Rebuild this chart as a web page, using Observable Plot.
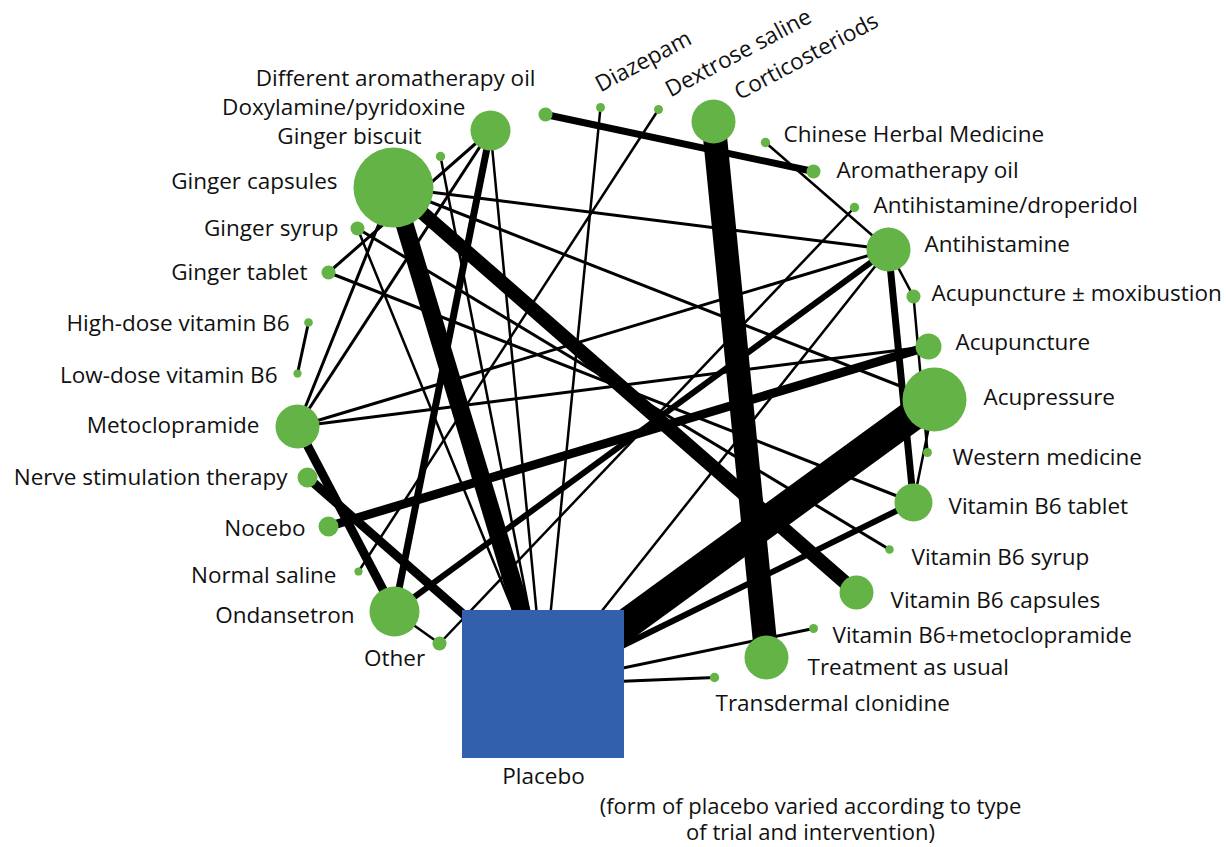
<!DOCTYPE html>
<html><head><meta charset="utf-8">
<script src="https://cdn.jsdelivr.net/npm/d3@7"></script>
<script src="https://cdn.jsdelivr.net/npm/@observablehq/plot@0.6"></script>
<style>body{margin:0;background:#fff;} svg{display:block;}</style>
</head><body><div id="chart"></div>
<script>
// Treatments (nodes) of the network
const treatments = [
  "Placebo","Different aromatherapy oil","Doxylamine/pyridoxine","Ginger biscuit","Ginger capsules",
  "Ginger syrup","Ginger tablet","High-dose vitamin B6","Low-dose vitamin B6","Metoclopramide",
  "Nerve stimulation therapy","Nocebo","Normal saline","Ondansetron","Other",
  "Diazepam","Dextrose saline","Corticosteriods","Chinese Herbal Medicine","Aromatherapy oil",
  "Antihistamine/droperidol","Antihistamine","Acupuncture ± moxibustion","Acupuncture","Acupressure",
  "Western medicine","Vitamin B6 tablet","Vitamin B6 syrup","Vitamin B6 capsules","Vitamin B6+metoclopramide",
  "Treatment as usual","Transdermal clonidine"
];
// network layout coordinates of each treatment
const layoutX = [543,545,490,440,393,357,328,308,297,297,307,328,358,394,439,600,658,713,765,813,854,888,913,928,934,927,913,889,856,813,766,714];
const layoutY = [684,114,130,156,187,228,272,322,373,426,477,526,571,611,643,107,109,121,142,171,207,249,296,346,399,452,502,549,592,628,657,677];
// node weight (number of participants, relative)
const nodeWeight = [0,49,400,22,1600,49,49,19,17,484,100,100,17,625,49,20,20,484,22,49,22,484,49,169,1024,20,361,18,289,20,484,22];
// label placement: side and anchor point
const labelSide = ["below","left","left","left","left","left","left","left","left","left","left","left","left","left","below","rot","rot","rot","right","right","right","right","right","right","right","right","right","right","right","right","right","right"];
const labelX = [543,535,465,421,337,338,307,289,277,259,287,305,336,354,394,600,670,739,783,836,873,924,931,955,983,952,948,911,890,832,807,715];
const labelY = [776,78,107,136,181,228,272,323,375,425,477,528,575,615,658,92,97,100,134,170,205,244,293,342,397,457,506,557,600,635,667,703];

// comparisons (edges)
const edgeFrom = ["Corticosteriods","Placebo","Placebo","Ginger capsules","Different aromatherapy oil","Nocebo","Metoclopramide","Nerve stimulation therapy","Doxylamine/pyridoxine","Antihistamine","Antihistamine","Placebo","Placebo","Placebo","Placebo","Placebo","Placebo","Placebo","Placebo","Dextrose saline","Antihistamine/droperidol","Ondansetron","Chinese Herbal Medicine","Antihistamine","Acupuncture ± moxibustion","Acupressure","Ginger capsules","Ginger capsules","Ginger capsules","Metoclopramide","Metoclopramide","Metoclopramide","Ginger tablet","Ginger tablet","Ginger syrup","High-dose vitamin B6"];
const edgeTo = ["Treatment as usual","Acupressure","Ginger capsules","Vitamin B6 capsules","Aromatherapy oil","Acupuncture","Ondansetron","Placebo","Ondansetron","Vitamin B6 tablet","Ondansetron","Vitamin B6 tablet","Antihistamine","Vitamin B6+metoclopramide","Transdermal clonidine","Diazepam","Doxylamine/pyridoxine","Ginger biscuit","Ginger syrup","Normal saline","Other","Other","Antihistamine","Acupuncture ± moxibustion","Western medicine","Vitamin B6 tablet","Antihistamine","Acupressure","Metoclopramide","Doxylamine/pyridoxine","Antihistamine","Acupuncture","Doxylamine/pyridoxine","Vitamin B6 tablet","Vitamin B6 syrup","Low-dose vitamin B6"];
// number of trials per comparison (drawn as line width)
const edgeTrials = [24,31,18,14,7,9,9,9,7,7,6,6,2.5,3,3,2.5,2.5,2.5,2.5,2.5,2.5,2.5,2.5,2.5,2.5,2.5,3,3,3,3,3,3,3,3,3,3];

const footnote = ["(form of placebo varied according to type\nof trial and intervention)"];

// ---- build tables ----
const nodes = treatments.map((name,i)=>({name,x:layoutX[i],y:layoutY[i],w:nodeWeight[i],side:labelSide[i],lx:labelX[i],ly:labelY[i]}));
const byName = new Map(nodes.map(n=>[n.name,n]));
const edges = edgeFrom.map((f,i)=>({a:byName.get(f),b:byName.get(edgeTo[i]),t:edgeTrials[i]}));
const placebo = nodes.filter(n=>n.name==="Placebo");
const others = nodes.filter(n=>n.name!=="Placebo");
const boxW = 162, boxH = 148;
const GREEN = "#63b347", BLUE = "#3360ad", INK = "#111";

const chart = Plot.plot({
  width: 1226, height: 847, margin: 0,
  x: {domain:[0,1226], range:[0,1226], axis:null},
  y: {domain:[0,847], range:[0,847], axis:null},
  r: {type:"sqrt", domain:[0,1600], range:[0,40]},
  style: {fontFamily:"'Open Sans', sans-serif", fontSize:"22.5px", background:"#fff", color:INK},
  marks: [
    Plot.link(edges, {x1:d=>d.a.x, y1:d=>d.a.y, x2:d=>d.b.x, y2:d=>d.b.y, stroke:"#000", strokeWidth:d=>d.t}),
    Plot.dot(others, {x:"x", y:"y", r:"w", fill:GREEN, stroke:null}),
    Plot.rect(placebo, {x1:d=>d.x-boxW/2, x2:d=>d.x+boxW/2, y1:d=>d.y-boxH/2, y2:d=>d.y+boxH/2, fill:BLUE}),
    Plot.text(nodes.filter(n=>n.side==="left"), {x:"lx", y:"ly", text:"name", textAnchor:"end", fill:INK}),
    Plot.text(nodes.filter(n=>n.side==="right"), {x:"lx", y:"ly", text:"name", textAnchor:"start", fill:INK}),
    Plot.text(nodes.filter(n=>n.side==="below"), {x:"lx", y:"ly", text:"name", textAnchor:"middle", fill:INK}),
    Plot.text(nodes.filter(n=>n.side==="rot"), {x:"lx", y:"ly", text:"name", textAnchor:"start", lineAnchor:"bottom", rotate:-28, fill:INK}),
    Plot.text(footnote, {x:()=>810, y:()=>818, text:d=>d, textAnchor:"middle", lineHeight:1.18, fill:INK, fontSize:22})
  ]
});
document.getElementById("chart").appendChild(chart);
</script>
</body></html>
